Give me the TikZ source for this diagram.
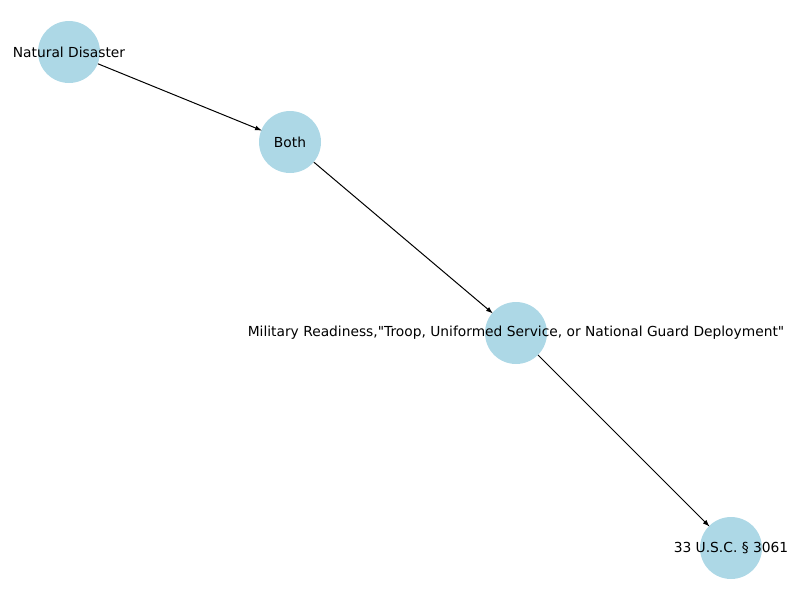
\documentclass[tikz,border=0pt]{standalone}
\usepackage{fontspec}
\setmainfont{DejaVu Sans}[Ligatures=TeXOff]
\usetikzlibrary{arrows.meta}
\definecolor{nodeblue}{RGB}{173,216,230}
\begin{document}
\begin{tikzpicture}[x=1pt,y=-1pt,
  vertex/.style={circle,fill=nodeblue,minimum size=62pt,inner sep=0pt},
  lbl/.style={font=\fontsize{13.8}{16}\selectfont,text=black},
  edge/.style={-{Latex[length=7pt,width=5pt]},line width=1pt,shorten >=-1pt}]
\useasboundingbox (0,0) rectangle (800,600);
\node[vertex] (nd) at (69,52) {};
\node[vertex] (both) at (290,142) {};
\node[vertex] (mil) at (516,333) {};
\node[vertex] (usc) at (731,548) {};
\node[lbl] at (nd) {Natural Disaster};
\node[lbl] at (both) {Both};
\node[lbl] at (mil) {Military Readiness,"Troop, Uniformed Service, or National Guard Deployment"};
\node[lbl] at (usc) {33 U.S.C. § 3061};
\draw[edge] (nd) -- (both);
\draw[edge] (both) -- (mil);
\draw[edge] (mil) -- (usc);
\end{tikzpicture}
\end{document}
